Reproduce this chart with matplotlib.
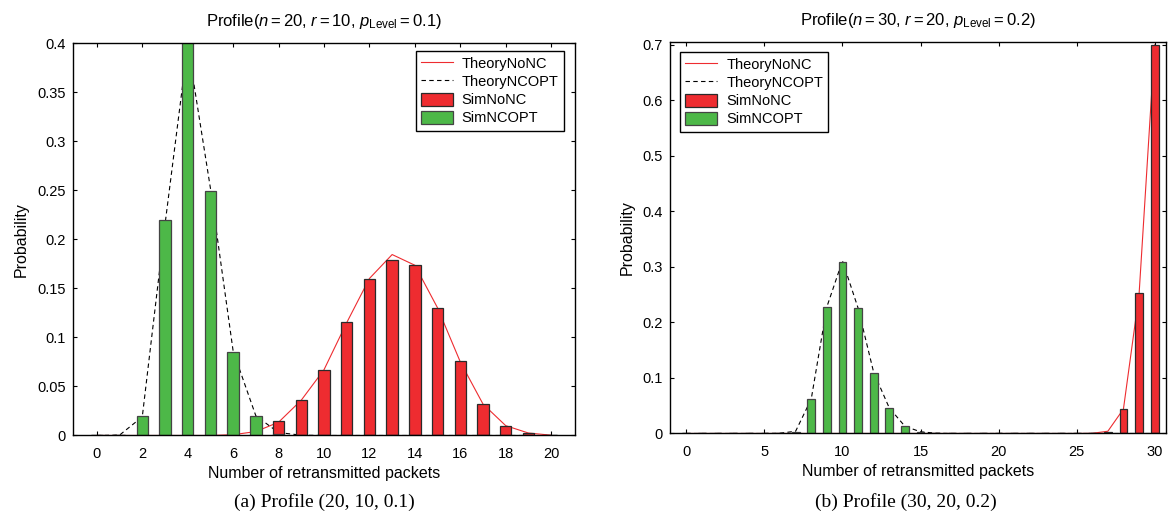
import matplotlib
matplotlib.use("Agg")
import matplotlib.pyplot as plt
import numpy as np
from matplotlib.patches import Patch
from matplotlib.lines import Line2D

plt.rcParams['font.family'] = ['Liberation Sans', 'DejaVu Sans']
plt.rcParams['mathtext.fontset'] = 'custom'
plt.rcParams['mathtext.rm'] = 'Liberation Sans'
plt.rcParams['mathtext.it'] = 'Liberation Sans:italic'
plt.rcParams['mathtext.bf'] = 'Liberation Sans:bold'

RED = '#ee2c30'
GREEN = '#4db848'

# ---- Panel (a): n=20, r=10, p=0.1 ----
x_a = list(range(0, 21))
sim_ncopt_a = [0, 0, 0.020, 0.220, 0.401, 0.249, 0.085, 0.020, 0.002, 0, 0,
               0, 0, 0, 0, 0, 0, 0, 0, 0, 0]
theory_ncopt_a = [0, 0.0004, 0.019, 0.215, 0.398, 0.252, 0.086, 0.020, 0.003, 0.0003, 0,
                  0, 0, 0, 0, 0, 0, 0, 0, 0, 0]
sim_nonc_a = [0, 0, 0, 0, 0, 0, 0, 0.001, 0.0143, 0.0364, 0.0663,
              0.116, 0.159, 0.179, 0.1735, 0.130, 0.0755, 0.032, 0.0099, 0.0027, 0]
theory_nonc_a = [0, 0, 0, 0, 0, 0, 0.0008, 0.004, 0.0135, 0.036, 0.067,
                 0.115, 0.160, 0.1844, 0.1735, 0.130, 0.075, 0.032, 0.010, 0.0025, 0.0003]

# ---- Panel (b): n=30, r=20, p=0.2 ----
x_b = list(range(0, 31))
sim_ncopt_b = [0, 0, 0, 0, 0, 0, 0, 0.003, 0.0617, 0.228, 0.309,
               0.226, 0.1096, 0.0455, 0.0126, 0.0024, 0, 0, 0, 0, 0,
               0, 0, 0, 0, 0, 0, 0, 0, 0, 0]
theory_ncopt_b = [0, 0, 0, 0, 0, 0, 0.0005, 0.004, 0.062, 0.228, 0.311,
                  0.226, 0.110, 0.046, 0.013, 0.003, 0.0005, 0, 0, 0, 0,
                  0, 0, 0, 0, 0, 0, 0, 0, 0, 0]
sim_nonc_b = [0] * 27 + [0.003, 0.0437, 0.253, 0.700]
theory_nonc_b = [0] * 26 + [0.0003, 0.004, 0.044, 0.250, 0.700]

labels = ['TheoryNoNC', 'TheoryNCOPT', 'SimNoNC', 'SimNCOPT']
titles = [r'Profile($n = 20$, $r = 10$, $p_{\mathrm{Level}} = 0.1$)',
          r'Profile($n = 30$, $r = 20$, $p_{\mathrm{Level}} = 0.2$)']
captions = ['(a) Profile (20, 10, 0.1)', '(b) Profile (30, 20, 0.2)']

fig = plt.figure(figsize=(11.68, 5.15), dpi=100)
ax_a = fig.add_axes([0.0625, 0.1544, 0.4298, 0.7621])
ax_b = fig.add_axes([0.5736, 0.1583, 0.4250, 0.7600])

FS = 10.5

def draw(ax, x, sim_nc, sim_opt, th_nc, th_opt, xlim, ylim, xticks, yticks, yticklabels, legloc, bbox):
    ax.plot(x, th_nc, color=RED, lw=0.8, zorder=1)
    ax.plot(x, th_opt, color='black', lw=0.8, ls=(0, (4, 3)), zorder=1)
    ax.bar(x, sim_nc, width=0.5, color=RED, edgecolor='#2a2a2a', linewidth=0.9, zorder=2)
    ax.bar(x, sim_opt, width=0.5, color=GREEN, edgecolor='#444444', linewidth=0.9, zorder=2)
    ax.set_xlim(*xlim)
    ax.set_ylim(*ylim)
    ax.set_xticks(xticks)
    ax.set_yticks(yticks)
    ax.set_yticklabels(yticklabels)
    ax.tick_params(direction='in', top=True, right=True, labelsize=FS, length=2.8, width=0.8,
                   colors='black')
    ax.tick_params(axis='x', pad=8)
    ax.tick_params(axis='y', pad=5)
    for s in ax.spines.values():
        s.set_linewidth(1.0)
        s.set_color('black')
    ax.set_xlabel('Number of retransmitted packets', fontsize=11.5, labelpad=4)
    ax.set_ylabel('Probability', fontsize=11.5, labelpad=6)
    handles = [Line2D([], [], color=RED, lw=0.8),
               Line2D([], [], color='black', lw=0.8, ls=(0, (4, 3))),
               Patch(facecolor=RED, edgecolor='#2a2a2a', linewidth=0.9),
               Patch(facecolor=GREEN, edgecolor='#444444', linewidth=0.9)]
    leg = ax.legend(handles, labels, loc=legloc, bbox_to_anchor=bbox, fontsize=FS,
                    fancybox=False, shadow=False, framealpha=1, edgecolor='black',
                    handlelength=2.2, handleheight=1.0, labelspacing=0.25,
                    borderpad=0.35, handletextpad=0.6, borderaxespad=0.3)
    leg.get_frame().set_linewidth(1.0)

draw(ax_a, x_a, sim_nonc_a, sim_ncopt_a, theory_nonc_a, theory_ncopt_a,
     (-1.05, 21.05), (0, 0.4), list(range(0, 21, 2)),
     [0, 0.05, 0.1, 0.15, 0.2, 0.25, 0.3, 0.35, 0.4],
     ['0', '0.05', '0.1', '0.15', '0.2', '0.25', '0.3', '0.35', '0.4'],
     'upper right', (0.986, 0.99))
draw(ax_b, x_b, sim_nonc_b, sim_ncopt_b, theory_nonc_b, theory_ncopt_b,
     (-1.05, 30.75), (0, 0.705), list(range(0, 31, 5)),
     [0, 0.1, 0.2, 0.3, 0.4, 0.5, 0.6, 0.7],
     ['0', '0.1', '0.2', '0.3', '0.4', '0.5', '0.6', '0.7'],
     'upper left', (0.012, 0.985))

ax_a.set_title(titles[0], fontsize=12, pad=12)
ax_b.set_title(titles[1], fontsize=12, pad=12)

fig.text(0.2775, 0.026, captions[0], ha='center', va='center', fontsize=14,
         family='Liberation Serif')
fig.text(0.7755, 0.026, captions[1], ha='center', va='center', fontsize=14,
         family='Liberation Serif')

fig.savefig('out.png', dpi=100)
